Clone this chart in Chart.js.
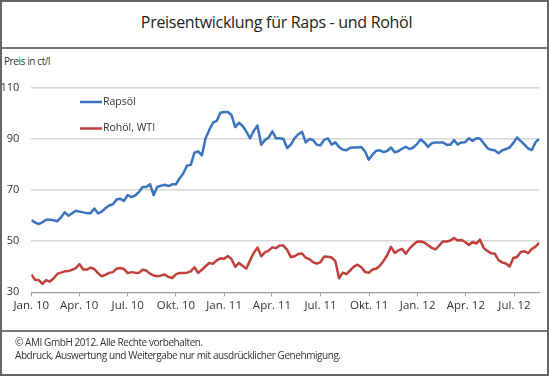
<!DOCTYPE html>
<html>
<head>
<meta charset="utf-8">
<script src="https://cdn.jsdelivr.net/npm/chart.js@4"></script>
<style>
  html, body { margin: 0; padding: 0; background: #fff; }
  #frame {
    position: relative; width: 549px; height: 376px; box-sizing: border-box;
    border: 2px solid #666; font-family: "Open Sans", sans-serif; color: #222;
  }
  #title {
    position: absolute; left: 0; right: 0; top: 8px; text-align: center;
    font-size: 16px; line-height: 24px; letter-spacing: -0.3px; padding-left: 4px;
  }
  .rule { position: absolute; left: 0; right: 0; height: 2px; background: #777; }
  #unit { position: absolute; left: 2px; top: 52px; font-size: 10px; line-height: 14px; color: #333; letter-spacing: -0.4px; }
  #footer { position: absolute; left: 13px; top: 334px; font-size: 10px; line-height: 12.5px; color: #333; letter-spacing: -0.43px; }
  #wrap { position: absolute; left: -2px; top: 46px; width: 549px; height: 284px; }
</style>
</head>
<body>
<div id="frame">
  <div id="title">Preisentwicklung für Raps - und Rohöl</div>
  <div class="rule" style="top:45px"></div>
  <div id="unit">Preis in ct/l</div>
  <div id="wrap"><canvas id="myChart"></canvas></div>
  <div class="rule" style="top:328px"></div>
  <div id="footer">© AMI GmbH 2012. Alle Rechte vorbehalten.<br>Abdruck, Auswertung und Weitergabe nur mit ausdrücklicher Genehmigung.</div>
</div>
<script>
// weekly prices, Jan 2010 - Aug 2012 (ct/l)
const rapsoel = [
  58.3, 57.4, 56.7, 57.4, 58.4, 58.4, 58.2, 57.8, 59.3, 61.3,
  60.0, 60.9, 61.9, 61.6, 61.3, 61.0, 61.0, 62.8, 60.9, 61.6,
  62.9, 64.0, 64.5, 66.3, 66.6, 65.8, 68.1, 67.3, 67.9, 69.2,
  71.2, 71.2, 72.3, 68.1, 71.3, 71.7, 72.1, 71.6, 72.3, 72.3,
  74.6, 76.6, 79.6, 79.9, 84.7, 85.2, 83.6, 90.3, 93.6, 96.4,
  97.1, 100.3, 100.6, 100.6, 99.4, 94.7, 96.4, 95.1, 92.9, 90.3,
  93.2, 95.3, 87.8, 89.6, 90.6, 93.0, 90.3, 90.3, 90.0, 86.5,
  87.8, 90.3, 91.9, 92.9, 88.7, 90.0, 89.6, 87.8, 87.6, 89.7,
  90.3, 87.8, 88.7, 86.9, 85.8, 85.6, 86.6, 86.7, 86.7, 86.9,
  85.2, 81.9, 83.9, 85.4, 85.6, 84.9, 85.4, 86.7, 84.8, 85.3,
  86.2, 87.0, 86.1, 86.7, 88.0, 89.8, 88.7, 86.9, 88.4, 88.7,
  88.7, 88.7, 87.8, 87.8, 89.6, 87.9, 88.7, 88.8, 90.3, 89.3,
  90.3, 90.2, 88.4, 86.5, 85.8, 85.6, 84.4, 85.6, 86.1, 86.7,
  88.5, 90.6, 89.2, 87.8, 86.3, 85.7, 88.8, 90.0
];
const rohoelWti = [
  37.0, 34.9, 34.8, 33.3, 34.8, 34.2, 35.4, 37.2, 37.7, 38.2,
  38.3, 38.8, 39.5, 41.0, 38.9, 38.9, 39.7, 39.1, 37.5, 36.3,
  36.8, 37.6, 37.9, 39.2, 39.5, 39.1, 37.5, 37.9, 37.7, 37.6,
  38.8, 38.5, 37.3, 36.6, 36.3, 36.6, 37.0, 36.0, 35.6, 37.0,
  37.6, 37.6, 37.7, 38.2, 39.8, 37.6, 38.8, 40.2, 41.5, 41.2,
  42.5, 43.3, 43.1, 44.2, 43.0, 40.0, 41.5, 40.3, 39.3, 42.5,
  45.5, 47.5, 44.1, 45.6, 46.3, 47.6, 47.3, 48.3, 48.3, 46.6,
  43.8, 44.1, 45.0, 45.2, 43.6, 43.0, 41.8, 41.2, 41.8, 44.0,
  43.9, 43.6, 42.2, 35.5, 37.7, 37.1, 38.6, 40.1, 40.8, 39.8,
  38.0, 37.6, 38.9, 39.2, 40.4, 42.3, 44.6, 47.8, 45.4, 46.4,
  47.0, 45.1, 47.1, 48.6, 49.8, 49.9, 49.5, 48.4, 47.4, 46.8,
  48.3, 49.9, 49.9, 50.3, 51.3, 50.3, 50.5, 49.7, 48.5, 49.7,
  49.1, 50.6, 47.4, 46.2, 45.3, 45.1, 42.6, 41.7, 41.3, 40.1,
  43.4, 43.8, 45.8, 46.1, 45.3, 47.0, 47.9, 49.4
];
const seriesNames = ['Rapsöl', 'Rohöl, WTI'];
const tickLabels = ['Jan. 10', 'Apr. 10', 'Jul. 10', 'Okt. 10', 'Jan. 11', 'Apr. 11', 'Jul. 11', 'Okt. 11', 'Jan. 12', 'Apr. 12', 'Jul. 12'];
const tickWeeks = [0, 12.9, 26, 39, 52, 64.9, 78, 91.1, 104.2, 117.2, 130.3];
const yTicks = [30, 50, 70, 90, 110];

const colors = ['#3b74be', '#c0403b'];
const toPoints = arr => arr.map((v, i) => ({ x: i, y: v }));

// legend drawn inside the plot, top left
const innerLegend = {
  id: 'innerLegend',
  afterDatasetsDraw(chart) {
    const c = chart.ctx;
    c.save();
    c.font = '10.5px "Open Sans"';
    c.textBaseline = 'middle';
    chart.data.datasets.forEach((ds, i) => {
      const y = 54 + i * 26.5;
      c.strokeStyle = ds.borderColor;
      c.lineWidth = 2.5;
      c.beginPath();
      c.moveTo(80, y);
      c.lineTo(102, y);
      c.stroke();
      c.fillStyle = '#333';
      c.fillText(ds.label, 103, y);
    });
    c.restore();
  }
};

const ctx = document.getElementById('myChart');
const config = {
  type: 'line',
  data: {
    datasets: [
      { label: seriesNames[0], data: toPoints(rapsoel), borderColor: colors[0] },
      { label: seriesNames[1], data: toPoints(rohoelWti), borderColor: colors[1] }
    ]
  },
  options: {
    responsive: true,
    maintainAspectRatio: false,
    animation: false,
    elements: {
      point: { radius: 0 },
      line: { borderWidth: 2.5, tension: 0, borderJoinStyle: 'round' }
    },
    layout: { padding: { top: 40, right: 9.7, left: 0, bottom: 0 } },
    plugins: { legend: false, tooltip: { enabled: false } },
    scales: {
      x: {
        type: 'linear',
        min: 0,
        max: rapsoel.length - 1,
        afterBuildTicks: s => { s.ticks = tickWeeks.map(v => ({ value: v })); },
        afterFit: s => { s.height = 39.7; },
        ticks: {
          autoSkip: false, maxRotation: 0, padding: 3,
          color: '#333', font: { family: 'Open Sans', size: 11.5 },
          callback: (v, i) => tickLabels[i]
        },
        grid: { drawOnChartArea: false, drawTicks: true, tickLength: 4, color: '#999' },
        border: { color: '#999', width: 1 }
      },
      y: {
        min: 30,
        max: 110,
        afterBuildTicks: s => { s.ticks = yTicks.map(v => ({ value: v })); },
        afterFit: s => { s.width = 31.3; },
        ticks: { padding: 12, color: '#333', font: { family: 'Open Sans', size: 11 } },
        grid: { drawTicks: false, color: '#d6d6d6', lineWidth: 1.5 },
        border: { display: false }
      }
    }
  },
  plugins: [innerLegend]
};

let chart = new Chart(ctx, config);
</script>
</body>
</html>
